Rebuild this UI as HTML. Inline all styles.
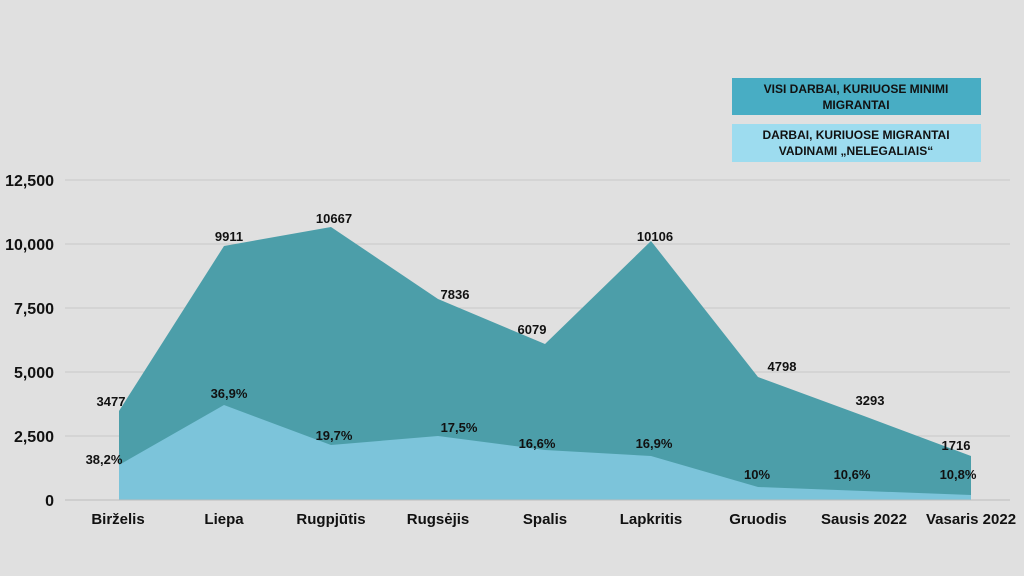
<!DOCTYPE html>
<html><head><meta charset="utf-8"><style>
html,body{margin:0;padding:0;background:#e0e0e0;}
svg{display:block;font-family:"Liberation Sans",sans-serif;}
</style></head><body>
<svg width="1024" height="576" viewBox="0 0 1024 576" xmlns="http://www.w3.org/2000/svg">
<rect width="1024" height="576" fill="#e0e0e0"/>
<g stroke="#c8c8c8" stroke-width="1">
<line x1="65" x2="1010" y1="180" y2="180"/>
<line x1="65" x2="1010" y1="244" y2="244"/>
<line x1="65" x2="1010" y1="308" y2="308"/>
<line x1="65" x2="1010" y1="372" y2="372"/>
<line x1="65" x2="1010" y1="436" y2="436"/>
</g>
<g font-size="16" font-weight="bold" fill="#111" text-anchor="end">
<text x="54" y="186">12,500</text>
<text x="54" y="250">10,000</text>
<text x="54" y="314">7,500</text>
<text x="54" y="378">5,000</text>
<text x="54" y="442">2,500</text>
<text x="54" y="506">0</text>
</g>
<polygon fill="#4c9ea9" points="119,500 119,411 224,246 331,227 438,299 545,344 651,241 758,377 864,416 971,456 971,500"/>
<polygon fill="#7cc4da" points="119,500 119,465 224,405 331,445 438,436 545,450 651,456 758,487 864,491 971,495 971,500"/>
<line x1="65" x2="1010" y1="500" y2="500" stroke="#bbb"/>
<g font-size="13" font-weight="bold" fill="#111" text-anchor="middle">
<text x="111" y="406">3477</text>
<text x="229" y="241">9911</text>
<text x="334" y="223">10667</text>
<text x="455" y="299">7836</text>
<text x="532" y="334">6079</text>
<text x="655" y="241">10106</text>
<text x="782" y="371">4798</text>
<text x="870" y="405">3293</text>
<text x="956" y="450">1716</text>
<text x="104" y="464">38,2%</text>
<text x="229" y="398">36,9%</text>
<text x="334" y="440">19,7%</text>
<text x="459" y="432">17,5%</text>
<text x="537" y="448">16,6%</text>
<text x="654" y="448">16,9%</text>
<text x="757" y="479">10%</text>
<text x="852" y="479">10,6%</text>
<text x="958" y="479">10,8%</text>
</g>
<g font-size="15" font-weight="bold" fill="#111" text-anchor="middle">
<text x="118" y="524">Birželis</text>
<text x="224" y="524">Liepa</text>
<text x="331" y="524">Rugpjūtis</text>
<text x="438" y="524">Rugsėjis</text>
<text x="545" y="524">Spalis</text>
<text x="651" y="524">Lapkritis</text>
<text x="758" y="524">Gruodis</text>
<text x="864" y="524">Sausis 2022</text>
<text x="971" y="524">Vasaris 2022</text>
</g>
<rect x="732" y="78" width="249" height="37" fill="#48adc4"/>
<rect x="732" y="124" width="249" height="38" fill="#9ddcef"/>
<g font-size="12" font-weight="bold" fill="#111" text-anchor="middle">
<text x="856" y="93">VISI DARBAI, KURIUOSE MINIMI</text>
<text x="856" y="109">MIGRANTAI</text>
<text x="856" y="139">DARBAI, KURIUOSE MIGRANTAI</text>
<text x="856" y="155">VADINAMI „NELEGALIAIS“</text>
</g>
</svg>
</body></html>
